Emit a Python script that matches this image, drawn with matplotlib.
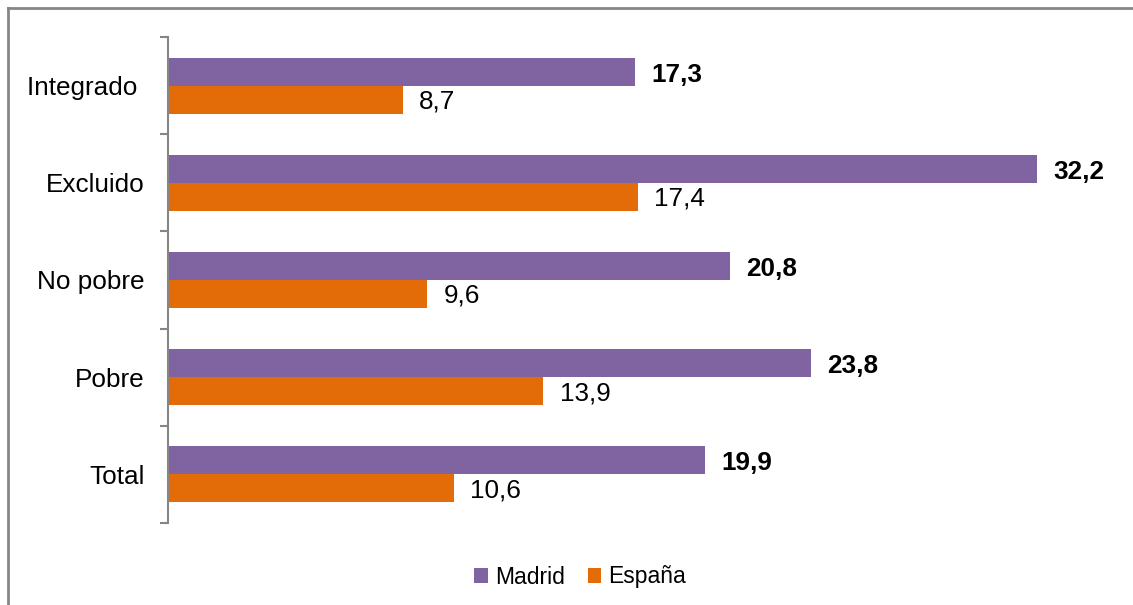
import numpy as np
import matplotlib.pyplot as plt
from matplotlib.lines import Line2D

plt.rcParams['font.family'] = ['Liberation Sans', 'DejaVu Sans']

# datos
categorias = ['Integrado ', 'Excluido', 'No pobre', 'Pobre', 'Total']
madrid = [17.3, 32.2, 20.8, 23.8, 19.9]
espana = [8.7, 17.4, 9.6, 13.9, 10.6]

col_madrid = '#8064A2'
col_espana = '#E36C09'
gris = '#868686'

W, H = 1133, 605
fig = plt.figure(figsize=(W / 100, H / 100), dpi=100)
ax = fig.add_axes([168 / W, 82 / H, (1120 - 168) / W, (523 - 37) / H])

y = np.arange(len(categorias))
h = 0.288
b1 = ax.barh(y - h / 2, madrid, height=h, color=col_madrid, label='Madrid')
b2 = ax.barh(y + h / 2, espana, height=h, color=col_espana, label='España')

fmt = lambda v: ('%.1f' % v).replace('.', ',')
for yy, v in zip(y, madrid):
    ax.text(v + 0.6, yy - h / 2 + 0.03, fmt(v), va='center', ha='left',
            fontsize=18.8, fontweight='bold')
for yy, v in zip(y, espana):
    ax.text(v + 0.6, yy + h / 2 + 0.02, fmt(v), va='center', ha='left',
            fontsize=18.8)

ax.set_xlim(0, (1120 - 168) / 27.0)
ax.set_ylim(len(categorias) - 0.5, -0.5)

# ticks en los limites de categoria, etiquetas en el centro
ax.set_yticks(np.arange(-0.5, len(categorias), 1.0))
ax.set_yticklabels([])
ax.set_yticks(y, minor=True)
ax.set_yticklabels(categorias, minor=True, fontsize=18.8)
ax.tick_params(axis='y', which='major', length=6, width=1.5, color=gris, direction='out')
ax.tick_params(axis='y', which='minor', length=0, pad=17)
ax.set_xticks([])

for s in ['top', 'right', 'bottom']:
    ax.spines[s].set_visible(False)
ax.spines['left'].set_color(gris)
ax.spines['left'].set_linewidth(1.5)

fig.legend(handles=[b1, b2], loc='center', bbox_to_anchor=(580 / W, 1 - 577 / H),
           ncol=2, frameon=False, fontsize=16.5, handlelength=0.6,
           handleheight=0.6, handletextpad=0.3, columnspacing=1.0)

# marco exterior
fig.add_artist(Line2D([7.5 / W, 1], [1 - 7.5 / H, 1 - 7.5 / H], color=gris, lw=2,
                      transform=fig.transFigure))
fig.add_artist(Line2D([7.5 / W, 7.5 / W], [0, 1 - 7.5 / H], color=gris, lw=2,
                      transform=fig.transFigure))

fig.savefig('out.png', dpi=100)
